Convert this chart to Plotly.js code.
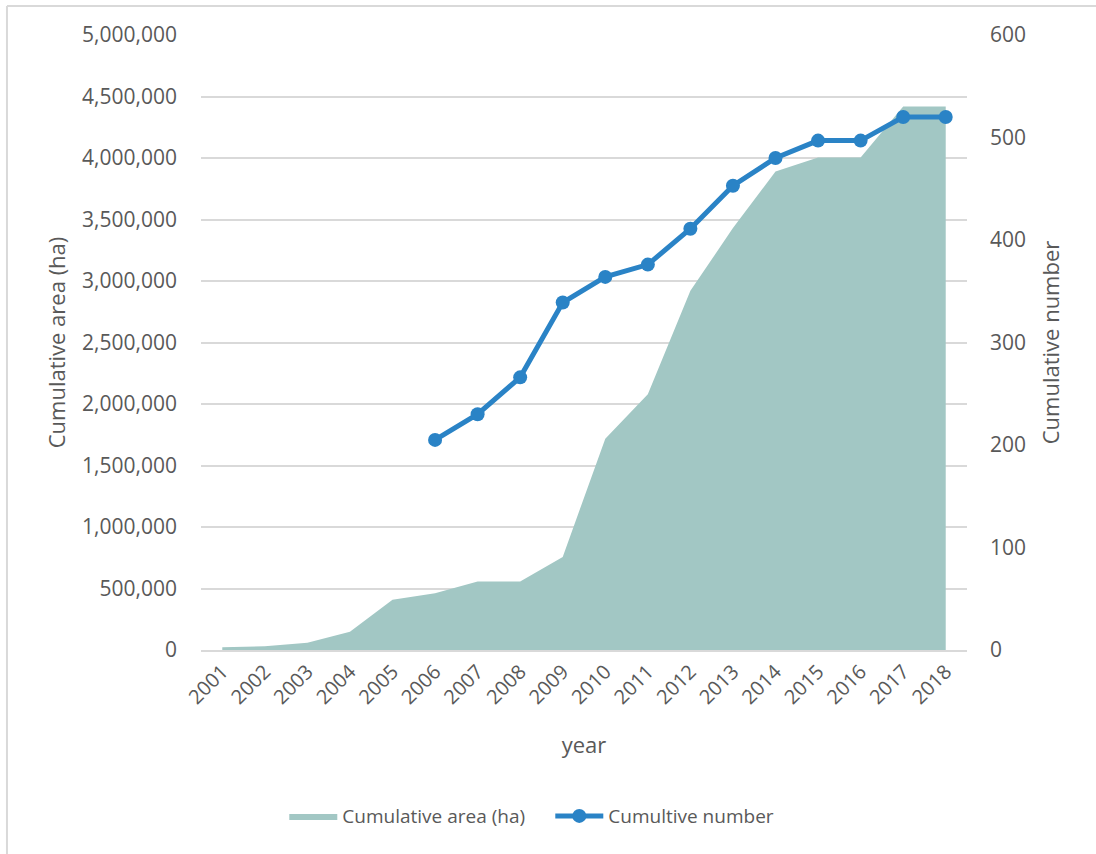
<!DOCTYPE html>
<html>
<head>
<meta charset="utf-8">
<script src="https://cdn.plot.ly/plotly-3.0.1.min.js"></script>
<style>
  html, body { margin: 0; padding: 0; background: #fff; }
  #chart { width: 1096px; height: 854px; }
</style>
</head>
<body>
<div id="chart"></div>
<script>
const years = ['2001','2002','2003','2004','2005','2006','2007','2008','2009','2010','2011','2012','2013','2014','2015','2016','2017','2018'];
const cumulativeArea = [22000, 30000, 58000, 148000, 408000, 461000, 556000, 556000, 757000, 1718000, 2080000, 2920000, 3430000, 3890000, 4005000, 4005000, 4418000, 4418000];
const cumulativeNumber = [null, null, null, null, null, 205, 230, 266, 339, 364, 376, 411, 453, 480, 497, 497, 520, 520];
const areaName = 'Cumulative area (ha)';
const numberName = 'Cumultive number';
const yTitle = 'Cumulative area (ha)';
const y2Title = 'Cumulative number';
const xTitle = 'year';

const fontFam = '"Open Sans", "Noto Sans", sans-serif';
const textColor = '#595959';
const gridColor = '#d9d9d9';

const traces = [
  {
    x: years, y: cumulativeArea, name: areaName,
    type: 'scatter', mode: 'lines', fill: 'tozeroy',
    fillcolor: '#a2c7c4', line: {width: 0, color: '#a2c7c4'},
    hoverinfo: 'x+y'
  },
  {
    x: years, y: cumulativeNumber, name: numberName, yaxis: 'y2',
    type: 'scatter', mode: 'lines+markers', connectgaps: false,
    line: {color: '#2a83c6', width: 5},
    marker: {color: '#2a83c6', size: 14}
  }
];

const layout = {
  width: 1096, height: 854,
  paper_bgcolor: '#ffffff', plot_bgcolor: '#ffffff',
  margin: {l: 201, r: 129, t: 35, b: 203.5, pad: 0},
  font: {family: fontFam, color: textColor, size: 20},
  showlegend: true,
  legend: {
    orientation: 'h', x: 0.456, xanchor: 'center', y: -0.27, yanchor: 'middle',
    font: {family: fontFam, color: textColor, size: 19},
    traceorder: 'normal', itemwidth: 48, entrywidth: 203
  },
  xaxis: {
    type: 'category', range: [-0.5, 17.5],
    tickangle: -45, showgrid: false, zeroline: false,
    showline: true, linecolor: gridColor, linewidth: 2,
    ticks: '', tickfont: {size: 20, color: textColor},
    title: {text: xTitle, font: {size: 22, color: textColor}, standoff: 29},
    fixedrange: true
  },
  yaxis: {
    range: [0, 5000000], dtick: 500000, tick0: 0,
    tickformat: ',d', showgrid: true, gridcolor: gridColor, gridwidth: 2,
    zeroline: false, showline: false, ticks: '',
    ticklabelstandoff: 23,
    tickfont: {size: 21, color: textColor},
    title: {text: yTitle, font: {size: 22, color: textColor}, standoff: 10}
  },
  yaxis2: {
    overlaying: 'y', side: 'right',
    range: [0, 600], dtick: 100, tick0: 0,
    showgrid: false, zeroline: false, showline: false, ticks: '',
    ticklabelstandoff: 22,
    tickfont: {size: 21, color: textColor},
    title: {text: y2Title, font: {size: 22, color: textColor}, standoff: 18}
  },
  shapes: [
    {type: 'line', xref: 'paper', yref: 'paper', x0: -0.2533, x1: 1.2, y0: 1.0472, y1: 1.0472,
     line: {color: gridColor, width: 2}},
    {type: 'line', xref: 'paper', yref: 'paper', x0: -0.2533, x1: -0.2533, y0: 1.0472, y1: -0.4,
     line: {color: gridColor, width: 2}}
  ]
};

Plotly.newPlot('chart', traces, layout, {displayModeBar: false, staticPlot: true});
</script>
</body>
</html>
